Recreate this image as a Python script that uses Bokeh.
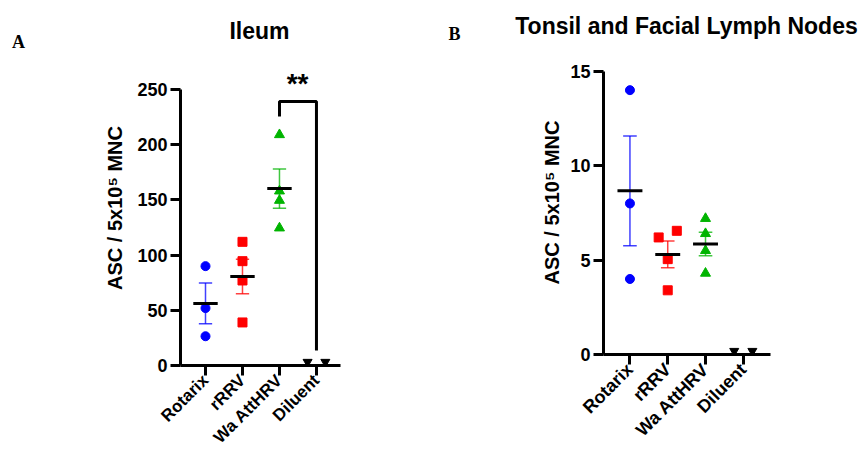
import numpy as np
from bokeh.plotting import figure
from bokeh.layouts import row, column
from bokeh.models import Range1d, FixedTicker
from bokeh.core.properties import value
from bokeh.embed import file_html
from bokeh.resources import INLINE

# ---------------- data ----------------
groups = ["Rotarix", "rRRV", "Wa AttHRV", "Diluent"]

ileum_rotarix = [90, 52, 26.5]
ileum_rrrv = [112, 94.5, 77, 39]
ileum_wa = [209, 158, 149.5, 124.5]
ileum_diluent = [0, 0]

tonsil_rotarix = [14, 8, 4]
tonsil_rrrv = [6.2, 6.55, 5.05, 3.4]
tonsil_wa = [7.2, 6.4, 5.5, 4.3]
tonsil_diluent = [0, 0]

y_ticks_ileum = [0, 50, 100, 150, 200, 250]
y_ticks_tonsil = [0, 5, 10, 15]

BLUE = "#0000ff"
RED = "#ff0000"
GREEN = "#00b400"
FONT = "Liberation Sans"
SERIF = "Liberation Serif"

HEADER_H = 50
TOTAL_H = 470


def style_axes(p, yticks, ybounds, xbounds, xlabel_size, ylabel_standoff):
    p.outline_line_color = None
    p.xgrid.visible = False
    p.ygrid.visible = False
    p.background_fill_color = "white"
    p.border_fill_color = "white"
    for ax in (p.xaxis[0], p.yaxis[0]):
        ax.axis_line_width = 3
        ax.axis_line_color = "black"
        ax.major_tick_line_width = 3
        ax.major_tick_line_color = "black"
        ax.major_tick_out = 10
        ax.major_tick_in = 0
        ax.minor_tick_line_color = None
        ax.major_label_text_font = FONT
        ax.major_label_text_font_style = "bold"
        ax.major_label_text_font_size = "18px"
        ax.major_label_text_color = "black"
    p.xaxis[0].ticker = FixedTicker(ticks=[0, 1, 2, 3])
    p.xaxis[0].major_label_overrides = {i: g for i, g in enumerate(groups)}
    p.xaxis[0].major_label_orientation = np.pi / 4
    p.xaxis[0].major_label_standoff = 2
    p.xaxis[0].major_label_text_font_size = xlabel_size
    p.xaxis[0].bounds = xbounds
    p.yaxis[0].ticker = FixedTicker(ticks=yticks)
    p.yaxis[0].bounds = ybounds
    p.yaxis[0].major_label_standoff = 3
    p.yaxis[0].axis_label = "ASC / 5x10\u2075 MNC"
    p.yaxis[0].axis_label_text_font = FONT
    p.yaxis[0].axis_label_text_font_style = "bold"
    p.yaxis[0].axis_label_text_font_size = "20px"
    p.yaxis[0].axis_label_text_color = "black"
    p.yaxis[0].axis_label_standoff = ylabel_standoff


def draw_group(p, xc, vals, color, marker, size, offsets=None):
    vals = np.asarray(vals, dtype=float)
    if offsets is None:
        offsets = [0.0] * len(vals)
    xs = [xc + o for o in offsets]
    m = vals.mean()
    sem = vals.std(ddof=1) / np.sqrt(len(vals))
    cap = 0.18
    p.segment(x0=[xc, xc - cap, xc - cap], y0=[m - sem, m + sem, m - sem],
              x1=[xc, xc + cap, xc + cap], y1=[m + sem, m + sem, m - sem],
              line_color=color, line_width=1.5, line_alpha=0.75)
    p.scatter(xs, vals, marker=marker, size=size, fill_color=color,
              line_color=color)
    p.segment(x0=[xc - 0.33], y0=[m], x1=[xc + 0.33], y1=[m],
              line_color="black", line_width=3)


def draw_diluent(p, xc, vals, lift):
    # markers sit on the axis: a slightly shifted scale lifts them above the clip edge
    r = p.y_range
    p.extra_y_ranges = {"dil": Range1d(r.start - lift, r.end - lift)}
    offs = [-0.24, 0.24]
    p.scatter([xc + o for o in offs], vals, marker="inverted_triangle",
              size=9, fill_color="black", line_color="black", y_range_name="dil")


# ---------------- header with panel letters and titles ----------------
hdr = figure(width=867, height=HEADER_H, output_backend="svg", toolbar_location=None,
             x_range=Range1d(0, 867), y_range=Range1d(HEADER_H, 0),
             x_axis_location=None, y_axis_location=None,
             min_border=0)
hdr.grid.visible = False
hdr.outline_line_color = None
hdr.text(x=[259, 686], y=[30, 25], text=["Ileum", "Tonsil and Facial Lymph Nodes"],
         text_font=value(FONT), text_font_style="bold", text_font_size="23px",
         text_align="center", text_baseline="middle", text_color="black")
hdr.text(x=[18, 454], y=[41, 33], text=["A", "B"],
         text_font=value(SERIF), text_font_style="bold", text_font_size="18px",
         text_align="center", text_baseline="middle", text_color="black")

# ---------------- Panel A: Ileum ----------------
pa_h = TOTAL_H - HEADER_H
pa = figure(width=440, height=pa_h, output_backend="svg", toolbar_location=None,
            x_range=Range1d(-0.676, 3.65), y_range=Range1d(0, 285.3),
            min_border_left=180, min_border_right=100,
            min_border_top=0, min_border_bottom=105, frame_align=False)
style_axes(pa, y_ticks_ileum, (0, 250), (-0.676, 3.65), "17px", 8)
draw_group(pa, 0, ileum_rotarix, BLUE, "circle", 9)
draw_group(pa, 1, ileum_rrrv, RED, "square", 9)
draw_group(pa, 2, ileum_wa, GREEN, "triangle", 10)
draw_diluent(pa, 3, ileum_diluent, 3.2)

# significance bracket
pa.line(x=[2, 2, 3, 3], y=[225.5, 239, 239, 13.5], line_color="black", line_width=3)
pa.text(x=[2.49], y=[255.5], text=["**"], text_font=value(FONT),
        text_font_style="bold", text_font_size="28px", text_align="center",
        text_baseline="alphabetic", text_color="black")

# ---------------- Panel B: Tonsil and Facial Lymph Nodes ----------------
pb = figure(width=427, height=pa_h, output_backend="svg", toolbar_location=None,
            x_range=Range1d(-0.70, 3.72), y_range=Range1d(0, 16.1),
            min_border_left=163, min_border_right=97,
            min_border_top=0, min_border_bottom=116, frame_align=False)
style_axes(pb, y_ticks_tonsil, (0, 15), (-0.70, 3.72), "18px", 4)
draw_group(pb, 0, tonsil_rotarix, BLUE, "circle", 9)
draw_group(pb, 1, tonsil_rrrv, RED, "square", 9, offsets=[-0.24, 0.24, 0, 0])
draw_group(pb, 2, tonsil_wa, GREEN, "triangle", 10)
draw_diluent(pb, 3, tonsil_diluent, 0.185)

layout = column(hdr, row(pa, pb))
open("out.html", "w").write(file_html(layout, INLINE))
